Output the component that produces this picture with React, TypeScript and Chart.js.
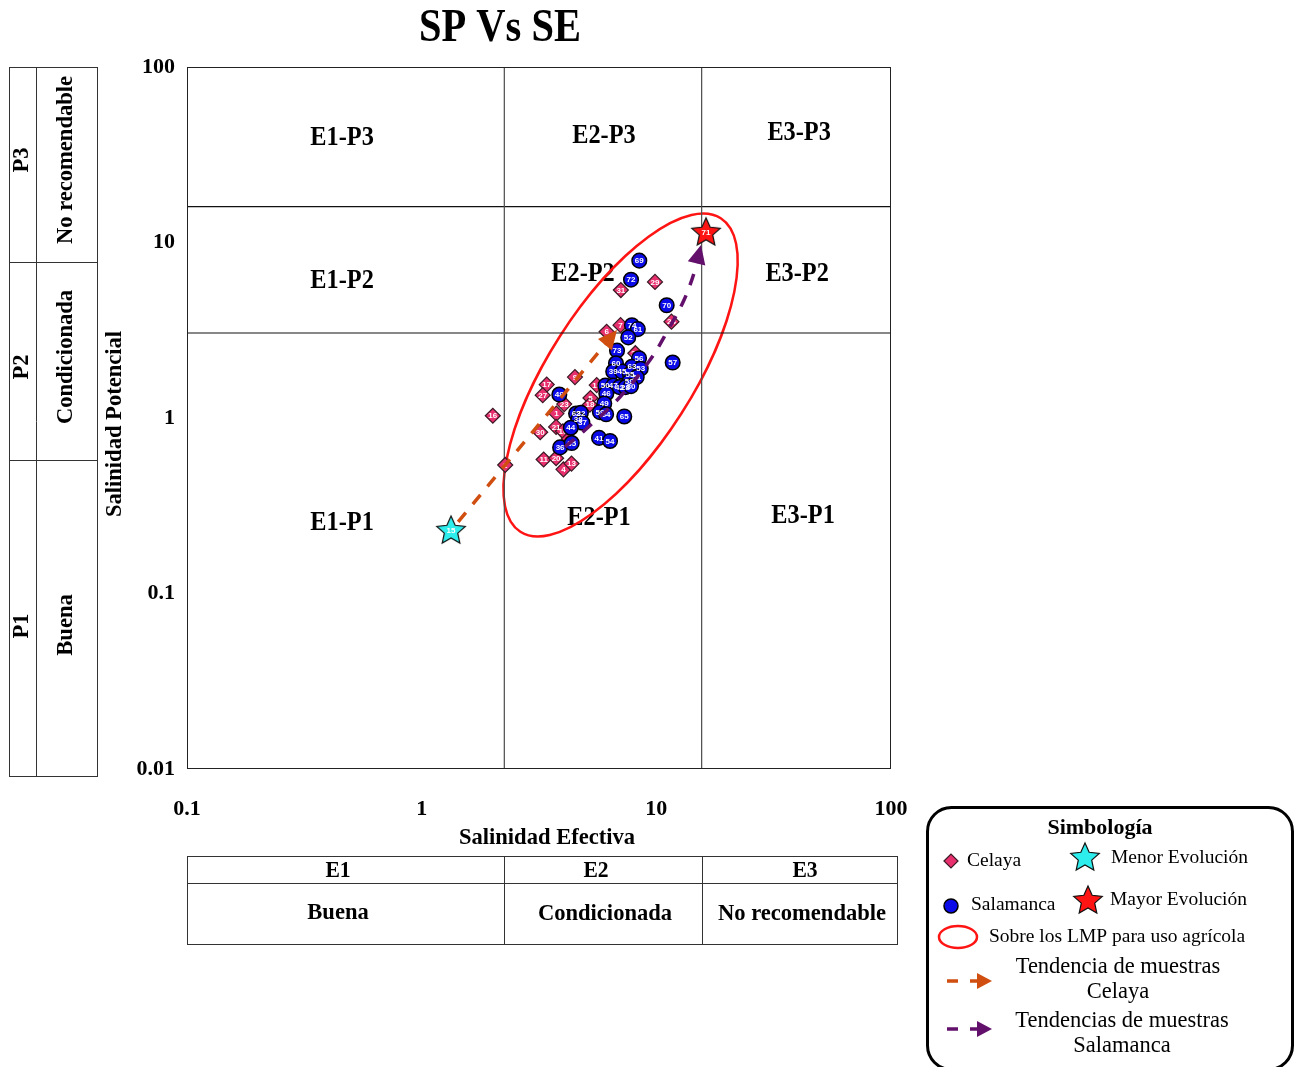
import React, { useEffect, useRef } from 'react';
import { Chart, registerables } from 'chart.js';

Chart.register(...registerables);

const SERIF = '"Liberation Serif", "Times New Roman", serif';
const SANS = '"Liberation Sans", Arial, sans-serif';

// Axis ticks (log-log diagram)
const X_TICKS = [0.1, 1, 10, 100];
const Y_TICKS = [0.01, 0.1, 1, 10, 100];

// Class limits: effective salinity (E1/E2, E2/E3) and potential salinity (P1/P2, P2/P3)
const SE_LIMITS = [2.25, 15.6];
const SP_LIMITS = [3.05, 16];

// Celaya samples
const celayaIds = ['16', '2', '17', '27', '9', '19', '23', '5', '18', '1', '21', '10', '30', '3', '11', '20', '4', '13', '6', '7', '31', '29', '24', '26'];
const celayaSE = [2.01, 2.27, 3.41, 3.28, 4.5, 5.57, 4.05, 5.24, 5.21, 3.75, 3.74, 4.0, 3.2, 4.24, 3.31, 3.74, 4.02, 4.35, 6.14, 7.04, 7.06, 9.87, 11.6, 8.14];
const celayaSP = [1.03, 0.54, 1.55, 1.35, 1.71, 1.54, 1.2, 1.3, 1.19, 1.06, 0.89, 0.84, 0.83, 0.76, 0.58, 0.59, 0.51, 0.55, 3.1, 3.38, 5.36, 5.96, 3.54, 2.34];

// Salamanca samples
const salamancaIds = ['69', '72', '70', '74', '61', '52', '73', '56', '57', '60', '63', '53', '39', '45', '55', '51', '58', '50', '47', '42', '28', '80', '46', '49', '48', '59', '64', '65', '62', '32', '38', '37', '44', '41', '54', '36', '35'];
const salamancaSE = [8.46, 7.8, 11.07, 7.87, 8.34, 7.59, 6.8, 8.44, 11.74, 6.73, 7.87, 8.58, 6.55, 7.14, 7.72, 8.25, 7.67, 6.06, 6.55, 6.97, 7.39, 7.8, 6.12, 6.0, 3.86, 5.75, 6.11, 7.3, 4.55, 4.77, 4.65, 4.84, 4.32, 5.7, 6.35, 3.89, 4.36];
const salamancaSP = [7.88, 6.14, 4.39, 3.38, 3.21, 2.88, 2.42, 2.19, 2.07, 2.05, 1.96, 1.91, 1.84, 1.84, 1.78, 1.71, 1.61, 1.53, 1.53, 1.5, 1.5, 1.52, 1.38, 1.21, 1.36, 1.08, 1.05, 1.02, 1.06, 1.07, 0.98, 0.94, 0.88, 0.77, 0.74, 0.68, 0.72];

// Lowest and highest evolution samples
const menorId = ['15'];
const menorSE = [1.334];
const menorSP = [0.23];
const mayorId = ['71'];
const mayorSE = [16.28];
const mayorSP = [11.5];

// Trend paths
const celayaTrendSE = [1.43, 6.8];
const celayaTrendSP = [0.256, 3.17];
const salamancaTrendSE = [4.08, 4.97, 7.0, 9.4, 11.21, 13.12, 14.61, 15.5];
const salamancaTrendSP = [0.684, 0.854, 1.318, 2.14, 3.17, 4.7, 6.97, 9.68];

// Zone names and their anchor values
const zoneNames = ['E1-P3', 'E2-P3', 'E3-P3', 'E1-P2', 'E2-P2', 'E3-P2', 'E1-P1', 'E2-P1', 'E3-P1'];
const zoneSE = [0.458, 5.98, 40.6, 0.458, 4.87, 39.8, 0.458, 5.7, 42.2];
const zoneSP = [39.4, 40.4, 42.1, 6.03, 6.61, 6.61, 0.252, 0.269, 0.276];

// Ellipse marking samples above the permissible limits
const lmpCenterSE = 7.04;
const lmpCenterSP = 1.758;

const PINK = '#E8306E';
const BLUE = '#0B0BEA';
const ORANGE = '#CF4E10';
const PURPLE = '#62106C';
const CYAN = '#2EEDED';
const RED = '#FF1414';

const pts = (xs: number[], ys: number[]) => xs.map((x, i) => ({ x, y: ys[i] }));

function text(ctx: CanvasRenderingContext2D, s: string, x: number, y: number, font: string, o: any = {}) {
  ctx.save();
  ctx.translate(x, y);
  if (o.rot) ctx.rotate(o.rot);
  ctx.scale(o.sx ?? 1, 1);
  ctx.font = font;
  ctx.textAlign = o.align ?? 'center';
  ctx.textBaseline = 'middle';
  ctx.fillStyle = o.color ?? '#000';
  ctx.fillText(s, 0, 0);
  ctx.restore();
}

function starPath(ctx: CanvasRenderingContext2D, cx: number, cy: number, R: number, r: number) {
  ctx.beginPath();
  for (let i = 0; i < 10; i++) {
    const a = -Math.PI / 2 + (i * Math.PI) / 5;
    const rad = i % 2 === 0 ? R : r;
    const px = cx + rad * Math.cos(a);
    const py = cy + rad * Math.sin(a);
    if (i === 0) ctx.moveTo(px, py);
    else ctx.lineTo(px, py);
  }
  ctx.closePath();
}

function drawStar(ctx: CanvasRenderingContext2D, cx: number, cy: number, R: number, fill: string) {
  ctx.save();
  starPath(ctx, cx, cy, R, R * 0.47);
  ctx.fillStyle = fill;
  ctx.fill();
  ctx.strokeStyle = '#111';
  ctx.lineWidth = 1.2;
  ctx.stroke();
  ctx.restore();
}

function starCanvas(fill: string, R: number) {
  const c = document.createElement('canvas');
  const size = Math.ceil(2 * R + 4);
  c.width = size;
  c.height = size;
  const ctx = c.getContext('2d')!;
  drawStar(ctx, size / 2, size / 2 + 1, R, fill);
  return c;
}

function arrowHead(ctx: CanvasRenderingContext2D, tx: number, ty: number, fx: number, fy: number, color: string, len = 19, half = 9) {
  const a = Math.atan2(ty - fy, tx - fx);
  ctx.save();
  ctx.translate(tx, ty);
  ctx.rotate(a);
  ctx.beginPath();
  ctx.moveTo(0, 0);
  ctx.lineTo(-len, -half);
  ctx.lineTo(-len, half);
  ctx.closePath();
  ctx.fillStyle = color;
  ctx.fill();
  ctx.restore();
}

function line(ctx: CanvasRenderingContext2D, x1: number, y1: number, x2: number, y2: number) {
  ctx.beginPath();
  ctx.moveTo(x1, y1);
  ctx.lineTo(x2, y2);
  ctx.stroke();
}

const BOLD = (px: number) => `bold ${px}px ${SERIF}`;
const REG = (px: number) => `${px}px ${SERIF}`;

const overlay = {
  id: 'overlay',
  beforeDraw(chart: any) {
    const { ctx, width, height } = chart;
    ctx.save();
    ctx.fillStyle = '#fff';
    ctx.fillRect(0, 0, width, height);
    ctx.restore();
  },
  beforeDatasetsDraw(chart: any) {
    const { ctx } = chart;
    const { x, y } = chart.scales;
    zoneNames.forEach((n, i) => {
      text(ctx, n, x.getPixelForValue(zoneSE[i]), y.getPixelForValue(zoneSP[i]), BOLD(27), { sx: 0.9 });
    });
    ctx.save();
    ctx.strokeStyle = RED;
    ctx.lineWidth = 2.5;
    ctx.beginPath();
    ctx.ellipse(x.getPixelForValue(lmpCenterSE), y.getPixelForValue(lmpCenterSP), 186, 72, (-57.4 * Math.PI) / 180, 0, Math.PI * 2);
    ctx.stroke();
    ctx.restore();
  },
  afterDatasetDraw(chart: any, args: any) {
    const { ctx } = chart;
    const ds = chart.data.datasets[args.index];
    const els = args.meta.data;
    if (ds.ids) {
      els.forEach((p: any, j: number) => {
        text(ctx, ds.ids[j], p.x, p.y + 0.5, `bold 8px ${SANS}`, { color: '#fff' });
      });
    }
    if (ds.arrow) {
      const n = els.length;
      arrowHead(ctx, els[n - 1].x, els[n - 1].y, els[n - 2].x, els[n - 2].y, ds.borderColor);
    }
  },
  afterDraw(chart: any) {
    const { ctx, chartArea: ca } = chart;
    const { x } = chart.scales;

    // plot frame
    ctx.save();
    ctx.strokeStyle = '#222';
    ctx.lineWidth = 1;
    ctx.strokeRect(ca.left + 0.5, ca.top + 0.5, ca.right - ca.left - 1, ca.bottom - ca.top - 1);
    ctx.restore();

    // titles
    text(ctx, 'SP Vs SE', 500, 29, BOLD(46), { sx: 0.88 });
    text(ctx, 'Salinidad Efectiva', 547, 838, BOLD(24), { sx: 0.94 });
    text(ctx, 'Salinidad Potencial', 115, 424, BOLD(24), { sx: 0.94, rot: -Math.PI / 2 });

    ctx.save();
    ctx.strokeStyle = '#333';
    ctx.lineWidth = 1;

    // potential salinity classes table
    ctx.strokeRect(9.5, 67.5, 88, 709);
    line(ctx, 36.5, 67, 36.5, 776);
    line(ctx, 9, 262.5, 97, 262.5);
    line(ctx, 9, 460.5, 98, 460.5);

    // effective salinity classes table
    const e1 = Math.round(x.getPixelForValue(SE_LIMITS[0])) + 0.5;
    const e2 = Math.round(x.getPixelForValue(SE_LIMITS[1])) + 0.5;
    ctx.strokeRect(187.5, 856.5, 710, 88);
    line(ctx, 187, 883.5, 897, 883.5);
    line(ctx, e1, 856, e1, 944);
    line(ctx, e2, 856, e2, 944);
    ctx.restore();

    const R = -Math.PI / 2;
    text(ctx, 'P3', 22, 160, BOLD(24), { sx: 0.94, rot: R });
    text(ctx, 'No recomendable', 66, 160, BOLD(24), { sx: 0.94, rot: R });
    text(ctx, 'P2', 22, 367, BOLD(24), { sx: 0.94, rot: R });
    text(ctx, 'Condicionada', 66, 357, BOLD(24), { sx: 0.94, rot: R });
    text(ctx, 'P1', 22, 626, BOLD(24), { sx: 0.94, rot: R });
    text(ctx, 'Buena', 66, 625, BOLD(24), { sx: 0.94, rot: R });

    text(ctx, 'E1', 338, 871, BOLD(23), { sx: 0.94 });
    text(ctx, 'E2', 596, 871, BOLD(23), { sx: 0.94 });
    text(ctx, 'E3', 805, 871, BOLD(23), { sx: 0.94 });
    text(ctx, 'Buena', 338, 913, BOLD(24), { sx: 0.94 });
    text(ctx, 'Condicionada', 605, 914, BOLD(24), { sx: 0.94 });
    text(ctx, 'No recomendable', 802, 914, BOLD(24), { sx: 0.94 });

    // legend box
    ctx.save();
    ctx.strokeStyle = '#000';
    ctx.lineWidth = 3;
    ctx.beginPath();
    ctx.roundRect(927.5, 807.5, 365, 262, 24);
    ctx.stroke();
    ctx.restore();

    text(ctx, 'Simbología', 1100, 828, BOLD(22));

    // Celaya marker
    ctx.save();
    ctx.beginPath();
    ctx.moveTo(944, 861);
    ctx.lineTo(951, 854);
    ctx.lineTo(958, 861);
    ctx.lineTo(951, 868);
    ctx.closePath();
    ctx.fillStyle = PINK;
    ctx.fill();
    ctx.strokeStyle = '#3a1a24';
    ctx.lineWidth = 1.2;
    ctx.stroke();
    // Salamanca marker
    ctx.beginPath();
    ctx.arc(951, 906, 7, 0, Math.PI * 2);
    ctx.fillStyle = BLUE;
    ctx.fill();
    ctx.strokeStyle = '#000';
    ctx.lineWidth = 1.5;
    ctx.stroke();
    // limits ellipse
    ctx.beginPath();
    ctx.ellipse(958, 937, 19, 11, 0, 0, Math.PI * 2);
    ctx.strokeStyle = RED;
    ctx.lineWidth = 2.5;
    ctx.stroke();
    ctx.restore();

    drawStar(ctx, 1085, 858, 15, CYAN);
    drawStar(ctx, 1088, 901, 15, RED);

    text(ctx, 'Celaya', 967, 861, REG(19.5), { align: 'left' });
    text(ctx, 'Menor Evolución', 1111, 858, REG(19.5), { align: 'left' });
    text(ctx, 'Salamanca', 971, 905, REG(19.5), { align: 'left' });
    text(ctx, 'Mayor Evolución', 1110, 900, REG(19.5), { align: 'left' });
    text(ctx, 'Sobre los LMP para uso agrícola', 989, 937, REG(19.5), { align: 'left' });

    const trendKey = (yy: number, color: string) => {
      ctx.save();
      ctx.strokeStyle = color;
      ctx.lineWidth = 3.5;
      ctx.setLineDash([11, 12]);
      line(ctx, 947, yy, 980, yy);
      ctx.restore();
      arrowHead(ctx, 992, yy, 940, yy, color, 15, 8);
    };
    trendKey(981, ORANGE);
    trendKey(1029, PURPLE);
    text(ctx, 'Tendencia de muestras', 1118, 967, REG(22.5));
    text(ctx, 'Celaya', 1118, 992, REG(22.5));
    text(ctx, 'Tendencias de muestras', 1122, 1021, REG(22.5));
    text(ctx, 'Salamanca', 1122, 1046, REG(22.5));
  },
};

export default function App() {
  const ref = useRef<HTMLCanvasElement>(null);

  useEffect(() => {
    const canvas = ref.current!;
    const zoneLine = (data: { x: number; y: number }[], color: string) => ({
      data,
      showLine: true,
      borderColor: color,
      borderWidth: 1.2,
      pointRadius: 0,
      order: 10,
    });
    const yMin = Y_TICKS[0];
    const yMax = Y_TICKS[Y_TICKS.length - 1];
    const xMin = X_TICKS[0];
    const xMax = X_TICKS[X_TICKS.length - 1];

    const chart = new Chart(canvas, {
      type: 'scatter',
      data: {
        datasets: [
          zoneLine([{ x: SE_LIMITS[0], y: yMin }, { x: SE_LIMITS[0], y: yMax }], '#4a4a4a'),
          zoneLine([{ x: SE_LIMITS[1], y: yMin }, { x: SE_LIMITS[1], y: yMax }], '#4a4a4a'),
          zoneLine([{ x: xMin, y: SP_LIMITS[0] }, { x: xMax, y: SP_LIMITS[0] }], '#111'),
          zoneLine([{ x: xMin, y: SP_LIMITS[1] }, { x: xMax, y: SP_LIMITS[1] }], '#111'),
          {
            label: 'Celaya',
            data: pts(celayaSE, celayaSP),
            pointStyle: 'rectRot',
            pointRadius: 7.5,
            backgroundColor: PINK,
            borderColor: '#3a1a24',
            borderWidth: 1.2,
            order: 4,
            ids: celayaIds,
          } as any,
          {
            label: 'Salamanca',
            data: pts(salamancaSE, salamancaSP),
            pointStyle: 'circle',
            pointRadius: 7.3,
            backgroundColor: BLUE,
            borderColor: '#000',
            borderWidth: 1.5,
            order: 3,
            ids: salamancaIds,
          } as any,
          {
            label: 'Tendencia de muestras Celaya',
            data: pts(celayaTrendSE, celayaTrendSP),
            showLine: true,
            borderColor: ORANGE,
            borderWidth: 3.5,
            borderDash: [12, 11],
            pointRadius: 0,
            tension: 0,
            order: 2,
            arrow: true,
          } as any,
          {
            label: 'Tendencias de muestras Salamanca',
            data: pts(salamancaTrendSE, salamancaTrendSP),
            showLine: true,
            borderColor: PURPLE,
            borderWidth: 3.5,
            borderDash: [12, 11],
            pointRadius: 0,
            tension: 0.35,
            order: 2,
            arrow: true,
          } as any,
          {
            label: 'Menor Evolución',
            data: pts(menorSE, menorSP),
            pointStyle: starCanvas(CYAN, 15),
            pointRadius: 10,
            order: 1,
            ids: menorId,
          } as any,
          {
            label: 'Mayor Evolución',
            data: pts(mayorSE, mayorSP),
            pointStyle: starCanvas(RED, 15),
            pointRadius: 10,
            order: 1,
            ids: mayorId,
          } as any,
        ],
      },
      options: {
        responsive: false,
        animation: false,
        devicePixelRatio: 1,
        events: [],
        layout: { padding: { left: 0, top: 67, right: 407, bottom: 208 } },
        plugins: {
          legend: { display: false },
          tooltip: { enabled: false },
          title: { display: false },
        },
        scales: {
          x: {
            type: 'logarithmic',
            min: xMin,
            max: xMax,
            grid: { display: false, drawTicks: false },
            border: { display: false },
            afterBuildTicks: (s: any) => {
              s.ticks = X_TICKS.map((v) => ({ value: v }));
            },
            afterFit: (s: any) => {
              s.height = 90;
            },
            ticks: {
              autoSkip: false,
              maxRotation: 0,
              padding: 27,
              color: '#000',
              font: { family: SERIF, size: 22, weight: 'bold' },
              callback: (v: any) => String(v),
            },
          },
          y: {
            type: 'logarithmic',
            min: yMin,
            max: yMax,
            grid: { display: false, drawTicks: false },
            border: { display: false },
            afterBuildTicks: (s: any) => {
              s.ticks = Y_TICKS.map((v) => ({ value: v }));
            },
            afterFit: (s: any) => {
              s.width = 187;
            },
            ticks: {
              autoSkip: false,
              padding: 12,
              color: '#000',
              font: { family: SERIF, size: 22, weight: 'bold' },
              callback: (v: any) => String(v),
            },
          },
        },
      } as any,
      plugins: [overlay],
    });
    return () => chart.destroy();
  }, []);

  return (
    <div style={{ position: 'absolute', left: 0, top: 0, width: 1298, height: 1067 }}>
      <canvas ref={ref} width={1298} height={1067} style={{ display: 'block', width: 1298, height: 1067 }} />
    </div>
  );
}
